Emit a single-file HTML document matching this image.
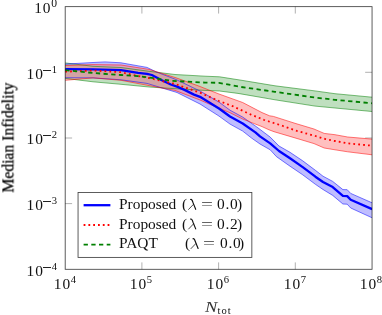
<!DOCTYPE html>
<html><head><meta charset="utf-8"><title>plot</title>
<style>
html,body{margin:0;padding:0;background:#fff;}
body{width:382px;height:315px;position:relative;overflow:hidden;font-family:"Liberation Serif",serif;color:#111;}
.t{position:absolute;white-space:nowrap;font-size:15.4px;line-height:16px;will-change:transform;}
.n{letter-spacing:0.95px;}
.s{font-size:10.6px;position:relative;top:-5.6px;margin-left:-0.3px;letter-spacing:0;}
.m{display:inline-block;width:7.4px;height:0.7px;background:#222;vertical-align:3.0px;margin:0 1.0px 0 -0.3px;}
.sb{font-size:10.6px;position:relative;top:2.4px;}
.yl{text-align:right;width:60px;left:-3.1px;}
.xl{text-align:center;width:40px;}
</style></head><body>
<svg width="382" height="315" viewBox="0 0 382 315" style="position:absolute;left:0;top:0"><rect width="382" height="315" fill="#fff"/><path d="M141.9 6.65 v6.9 M141.9 269.3 v-6.9 M65.2 72.3 h6.9 M372.05 72.3 h-6.9 M218.6 6.65 v6.9 M218.6 269.3 v-6.9 M65.2 138.0 h6.9 M372.05 138.0 h-6.9 M295.3 6.65 v6.9 M295.3 269.3 v-6.9 M65.2 203.6 h6.9 M372.05 203.6 h-6.9" stroke="#707070" stroke-width="0.55" fill="none"/><clipPath id="c"><rect x="65.2" y="6.65" width="306.85" height="262.65000000000003"/></clipPath><g clip-path="url(#c)"><clipPath id="cg"><polygon points="65.2,62.9 93.0,66.3 121.0,67.5 149.0,71.3 175.0,74.5 205.0,76.2 219.5,76.8 243.0,80.5 275.0,85.8 315.0,90.9 335.0,93.7 372.1,97.2 372.1,111.5 335.0,108.0 315.0,106.1 275.0,99.8 238.0,93.4 219.5,91.0 205.0,90.4 175.0,88.7 149.0,87.0 121.0,84.3 93.0,81.8 65.2,78.4"/></clipPath><clipPath id="cb"><polygon points="65.2,64.1 93.0,62.5 105.0,61.9 121.0,62.8 147.0,67.4 156.5,72.0 176.0,79.5 200.0,91.0 219.0,102.1 230.0,110.2 242.7,117.1 255.4,126.0 260.0,129.4 270.2,137.1 279.0,146.0 290.0,152.3 302.7,160.8 315.4,170.3 323.0,176.2 332.7,181.4 342.9,189.6 347.2,189.7 350.7,193.4 372.1,202.8 372.1,217.8 350.7,208.0 347.2,204.2 342.9,204.0 332.7,195.4 323.0,189.5 315.4,184.3 302.7,174.8 290.0,166.2 276.5,156.7 270.2,149.8 260.0,144.0 251.6,138.1 242.7,131.1 230.0,124.1 219.0,116.1 200.0,104.0 177.0,92.5 147.0,83.4 121.0,79.8 93.0,77.9 65.2,77.7"/></clipPath><polygon points="65.2,62.9 93.0,66.3 121.0,67.5 149.0,71.3 175.0,74.5 205.0,76.2 219.5,76.8 243.0,80.5 275.0,85.8 315.0,90.9 335.0,93.7 372.1,97.2 372.1,111.5 335.0,108.0 315.0,106.1 275.0,99.8 238.0,93.4 219.5,91.0 205.0,90.4 175.0,88.7 149.0,87.0 121.0,84.3 93.0,81.8 65.2,78.4" fill="rgb(191,223,191)"/><polygon points="65.2,64.1 93.0,62.5 105.0,61.9 121.0,62.8 147.0,67.4 156.5,72.0 176.0,79.5 200.0,91.0 219.0,102.1 230.0,110.2 242.7,117.1 255.4,126.0 260.0,129.4 270.2,137.1 279.0,146.0 290.0,152.3 302.7,160.8 315.4,170.3 323.0,176.2 332.7,181.4 342.9,189.6 347.2,189.7 350.7,193.4 372.1,202.8 372.1,217.8 350.7,208.0 347.2,204.2 342.9,204.0 332.7,195.4 323.0,189.5 315.4,184.3 302.7,174.8 290.0,166.2 276.5,156.7 270.2,149.8 260.0,144.0 251.6,138.1 242.7,131.1 230.0,124.1 219.0,116.1 200.0,104.0 177.0,92.5 147.0,83.4 121.0,79.8 93.0,77.9 65.2,77.7" fill="rgb(191,189,255)"/><g clip-path="url(#cg)"><polygon points="65.2,64.1 93.0,62.5 105.0,61.9 121.0,62.8 147.0,67.4 156.5,72.0 176.0,79.5 200.0,91.0 219.0,102.1 230.0,110.2 242.7,117.1 255.4,126.0 260.0,129.4 270.2,137.1 279.0,146.0 290.0,152.3 302.7,160.8 315.4,170.3 323.0,176.2 332.7,181.4 342.9,189.6 347.2,189.7 350.7,193.4 372.1,202.8 372.1,217.8 350.7,208.0 347.2,204.2 342.9,204.0 332.7,195.4 323.0,189.5 315.4,184.3 302.7,174.8 290.0,166.2 276.5,156.7 270.2,149.8 260.0,144.0 251.6,138.1 242.7,131.1 230.0,124.1 219.0,116.1 200.0,104.0 177.0,92.5 147.0,83.4 121.0,79.8 93.0,77.9 65.2,77.7" fill="rgb(160,185,208)"/></g><polygon points="65.2,65.5 93.0,64.6 121.0,65.0 149.0,69.4 176.0,77.8 200.0,86.5 219.0,94.0 242.7,102.5 262.0,112.6 269.6,115.8 273.4,116.4 295.0,123.3 314.0,129.0 324.2,133.4 335.0,134.7 347.7,137.0 372.1,139.1 372.1,154.8 347.7,151.8 335.0,149.8 324.2,148.0 314.0,143.6 295.0,137.9 274.0,131.7 269.0,129.8 262.0,126.6 255.4,124.1 242.7,119.0 230.0,112.7 216.5,107.2 200.0,100.0 175.0,90.4 149.0,85.6 121.0,80.3 93.0,77.9 65.2,80.3" fill="rgb(255,191,191)"/><g clip-path="url(#cg)"><polygon points="65.2,65.5 93.0,64.6 121.0,65.0 149.0,69.4 176.0,77.8 200.0,86.5 219.0,94.0 242.7,102.5 262.0,112.6 269.6,115.8 273.4,116.4 295.0,123.3 314.0,129.0 324.2,133.4 335.0,134.7 347.7,137.0 372.1,139.1 372.1,154.8 347.7,151.8 335.0,149.8 324.2,148.0 314.0,143.6 295.0,137.9 274.0,131.7 269.0,129.8 262.0,126.6 255.4,124.1 242.7,119.0 230.0,112.7 216.5,107.2 200.0,100.0 175.0,90.4 149.0,85.6 121.0,80.3 93.0,77.9 65.2,80.3" fill="rgb(222,176,160)"/></g><g clip-path="url(#cb)"><polygon points="65.2,65.5 93.0,64.6 121.0,65.0 149.0,69.4 176.0,77.8 200.0,86.5 219.0,94.0 242.7,102.5 262.0,112.6 269.6,115.8 273.4,116.4 295.0,123.3 314.0,129.0 324.2,133.4 335.0,134.7 347.7,137.0 372.1,139.1 372.1,154.8 347.7,151.8 335.0,149.8 324.2,148.0 314.0,143.6 295.0,137.9 274.0,131.7 269.0,129.8 262.0,126.6 255.4,124.1 242.7,119.0 230.0,112.7 216.5,107.2 200.0,100.0 175.0,90.4 149.0,85.6 121.0,80.3 93.0,77.9 65.2,80.3" fill="rgb(221,161,197)"/></g><g clip-path="url(#cg)"><g clip-path="url(#cb)"><polygon points="65.2,65.5 93.0,64.6 121.0,65.0 149.0,69.4 176.0,77.8 200.0,86.5 219.0,94.0 242.7,102.5 262.0,112.6 269.6,115.8 273.4,116.4 295.0,123.3 314.0,129.0 324.2,133.4 335.0,134.7 347.7,137.0 372.1,139.1 372.1,154.8 347.7,151.8 335.0,149.8 324.2,148.0 314.0,143.6 295.0,137.9 274.0,131.7 269.0,129.8 262.0,126.6 255.4,124.1 242.7,119.0 230.0,112.7 216.5,107.2 200.0,100.0 175.0,90.4 149.0,85.6 121.0,80.3 93.0,77.9 65.2,80.3" fill="rgb(211,163,164)"/></g></g><polyline points="65.2,62.9 93.0,66.3 121.0,67.5 149.0,71.3 175.0,74.5 205.0,76.2 219.5,76.8 243.0,80.5 275.0,85.8 315.0,90.9 335.0,93.7 372.1,97.2" fill="none" stroke="#008000" stroke-opacity="0.8" stroke-width="0.65"/><polyline points="65.2,78.4 93.0,81.8 121.0,84.3 149.0,87.0 175.0,88.7 205.0,90.4 219.5,91.0 238.0,93.4 275.0,99.8 315.0,106.1 335.0,108.0 372.1,111.5" fill="none" stroke="#008000" stroke-opacity="0.8" stroke-width="0.65"/><polyline points="65.2,64.1 93.0,62.5 105.0,61.9 121.0,62.8 147.0,67.4 156.5,72.0 176.0,79.5 200.0,91.0 219.0,102.1 230.0,110.2 242.7,117.1 255.4,126.0 260.0,129.4 270.2,137.1 279.0,146.0 290.0,152.3 302.7,160.8 315.4,170.3 323.0,176.2 332.7,181.4 342.9,189.6 347.2,189.7 350.7,193.4 372.1,202.8" fill="none" stroke="#0000ff" stroke-opacity="0.8" stroke-width="0.65"/><polyline points="65.2,77.7 93.0,77.9 121.0,79.8 147.0,83.4 177.0,92.5 200.0,104.0 219.0,116.1 230.0,124.1 242.7,131.1 251.6,138.1 260.0,144.0 270.2,149.8 276.5,156.7 290.0,166.2 302.7,174.8 315.4,184.3 323.0,189.5 332.7,195.4 342.9,204.0 347.2,204.2 350.7,208.0 372.1,217.8" fill="none" stroke="#0000ff" stroke-opacity="0.8" stroke-width="0.65"/><polyline points="65.2,65.5 93.0,64.6 121.0,65.0 149.0,69.4 176.0,77.8 200.0,86.5 219.0,94.0 242.7,102.5 262.0,112.6 269.6,115.8 273.4,116.4 295.0,123.3 314.0,129.0 324.2,133.4 335.0,134.7 347.7,137.0 372.1,139.1" fill="none" stroke="#ff0000" stroke-opacity="0.8" stroke-width="0.65"/><polyline points="65.2,80.3 93.0,77.9 121.0,80.3 149.0,85.6 175.0,90.4 200.0,100.0 216.5,107.2 230.0,112.7 242.7,119.0 255.4,124.1 262.0,126.6 269.0,129.8 274.0,131.7 295.0,137.9 314.0,143.6 324.2,148.0 335.0,149.8 347.7,151.8 372.1,154.8" fill="none" stroke="#ff0000" stroke-opacity="0.8" stroke-width="0.65"/><polyline points="65.2,69.1 93.0,69.3 121.0,70.2 138.0,72.9 147.0,73.8 151.8,75.0 161.3,80.0 170.8,84.5 177.0,86.6 184.5,89.9 194.0,94.6 200.0,96.8 219.0,108.5 230.0,116.5 242.7,123.5 255.4,132.4 260.0,136.4 270.2,143.4 279.0,151.0 290.0,158.3 302.7,167.1 315.4,176.7 323.0,182.0 332.7,187.1 342.9,195.9 347.2,196.1 350.7,199.7 372.1,209.1" fill="none" stroke="#0000ff" stroke-width="2.3" stroke-linejoin="round"/><polyline points="65.2,71.7 93.0,70.5 121.0,72.2 138.0,76.0 149.0,78.0 175.0,84.0 200.6,92.9 219.0,101.0 232.5,106.1 251.0,114.6 264.3,120.0 282.9,126.0 296.9,130.9 315.3,136.0 325.5,139.1 335.0,141.0 347.7,143.3 372.1,145.7" fill="none" stroke="#ff0000" stroke-width="1.8" stroke-dasharray="1.8 3.116" stroke-dashoffset="0" stroke-linejoin="round"/><polyline points="65.2,70.1 93.0,73.0 121.0,75.0 138.0,76.2 149.0,77.5 172.0,80.8 205.0,82.6 219.0,82.8 241.2,87.0 275.0,91.8 315.0,97.6 335.0,99.8 372.1,103.3" fill="none" stroke="#008000" stroke-width="1.8" stroke-dasharray="4.3 3.4" stroke-linejoin="round"/></g><rect x="65.2" y="6.65" width="306.85" height="262.65000000000003" fill="none" stroke="#000" stroke-width="0.85" stroke-opacity="0.75"/><rect x="78.05" y="192.45" width="173.8" height="64.95" fill="#fff" stroke="#000" stroke-width="0.85" stroke-opacity="0.75"/><line x1="83.6" x2="110.4" y1="205.2" y2="205.2" stroke="#0000ff" stroke-width="2.3"/><line x1="83.6" x2="110.4" y1="225" y2="225" stroke="#ff0000" stroke-width="1.8" stroke-dasharray="1.8 3.0"/><line x1="83.6" x2="110.4" y1="244.7" y2="244.7" stroke="#008000" stroke-width="1.8" stroke-dasharray="4.3 3.4"/><g transform="translate(0,0)" fill="none" stroke="#111" stroke-linecap="round"><path d="M190.6,199.5 C191.7,199.1 192.4,200.6 193.0,202.6 L195.7,209.3" stroke-width="1.15"/><path d="M193.3,204.5 L188.6,209.4" stroke-width="0.75"/></g><g transform="translate(0,19.6)" fill="none" stroke="#111" stroke-linecap="round"><path d="M190.6,199.5 C191.7,199.1 192.4,200.6 193.0,202.6 L195.7,209.3" stroke-width="1.15"/><path d="M193.3,204.5 L188.6,209.4" stroke-width="0.75"/></g><g transform="translate(2.4,39.2)" fill="none" stroke="#111" stroke-linecap="round"><path d="M190.6,199.5 C191.7,199.1 192.4,200.6 193.0,202.6 L195.7,209.3" stroke-width="1.15"/><path d="M193.3,204.5 L188.6,209.4" stroke-width="0.75"/></g></svg>
<div class="t yl" style="top:-0.3px;left:-2.7px"><span class="n">10</span><span class="s" style="font-size:11.6px">0</span></div>
<div class="t yl" style="top:65.5px"><span class="n">10</span><span class="s"><span class="m"></span>1</span></div>
<div class="t yl" style="top:131.4px"><span class="n">10</span><span class="s"><span class="m"></span>2</span></div>
<div class="t yl" style="top:197.2px"><span class="n">10</span><span class="s"><span class="m"></span>3</span></div>
<div class="t yl" style="top:263.1px"><span class="n">10</span><span class="s"><span class="m"></span>4</span></div>
<div class="t xl" style="left:44.6px;top:275.6px"><span class="n">10</span><span class="s">4</span></div>
<div class="t xl" style="left:121.3px;top:275.6px"><span class="n">10</span><span class="s">5</span></div>
<div class="t xl" style="left:198.0px;top:275.6px"><span class="n">10</span><span class="s">6</span></div>
<div class="t xl" style="left:274.7px;top:275.6px"><span class="n">10</span><span class="s">7</span></div>
<div class="t xl" style="left:351.4px;top:275.6px"><span class="n">10</span><span class="s">8</span></div>
<div class="t" style="left:204.6px;top:298.6px"><i style="display:inline-block;transform:scaleX(1.2);transform-origin:0 50%;margin-right:2.2px;color:#333">N</i><span class="sb" style="letter-spacing:1.05px">tot</span></div>
<div class="t" style="will-change:auto;color:#000;-webkit-text-stroke:0.25px #000;left:0;top:0;font-size:15.7px;transform-origin:0 0;transform:translate(0.4px,192.6px) rotate(-90deg);">Median Infidelity</div>
<div class="t" style="left:119.1px;top:196.2px">Proposed</div>
<div class="t glp" style="left:182.10px;top:196.2px;">(</div>
<div class="t geq" style="left:200.90px;top:196.2px;color:#333;transform:scaleX(1.38);transform-origin:0 50%;">=</div>
<div class="t gnum" style="left:217.10px;top:196.2px;letter-spacing:0.7px;">0.0</div>
<div class="t grp" style="left:237.00px;top:196.2px;">)</div>
<div class="t" style="left:119.1px;top:215.8px">Proposed</div>
<div class="t glp" style="left:182.10px;top:215.8px;">(</div>
<div class="t geq" style="left:200.90px;top:215.8px;color:#333;transform:scaleX(1.38);transform-origin:0 50%;">=</div>
<div class="t gnum" style="left:217.10px;top:215.8px;letter-spacing:0.7px;">0.2</div>
<div class="t grp" style="left:237.00px;top:215.8px;">)</div>
<div class="t" style="left:119.1px;top:235.4px">PAQT</div>
<div class="t glp" style="left:184.50px;top:235.4px;">(</div>
<div class="t geq" style="left:203.30px;top:235.4px;color:#333;transform:scaleX(1.38);transform-origin:0 50%;">=</div>
<div class="t gnum" style="left:219.50px;top:235.4px;letter-spacing:0.7px;">0.0</div>
<div class="t grp" style="left:239.40px;top:235.4px;">)</div>
</body></html>
